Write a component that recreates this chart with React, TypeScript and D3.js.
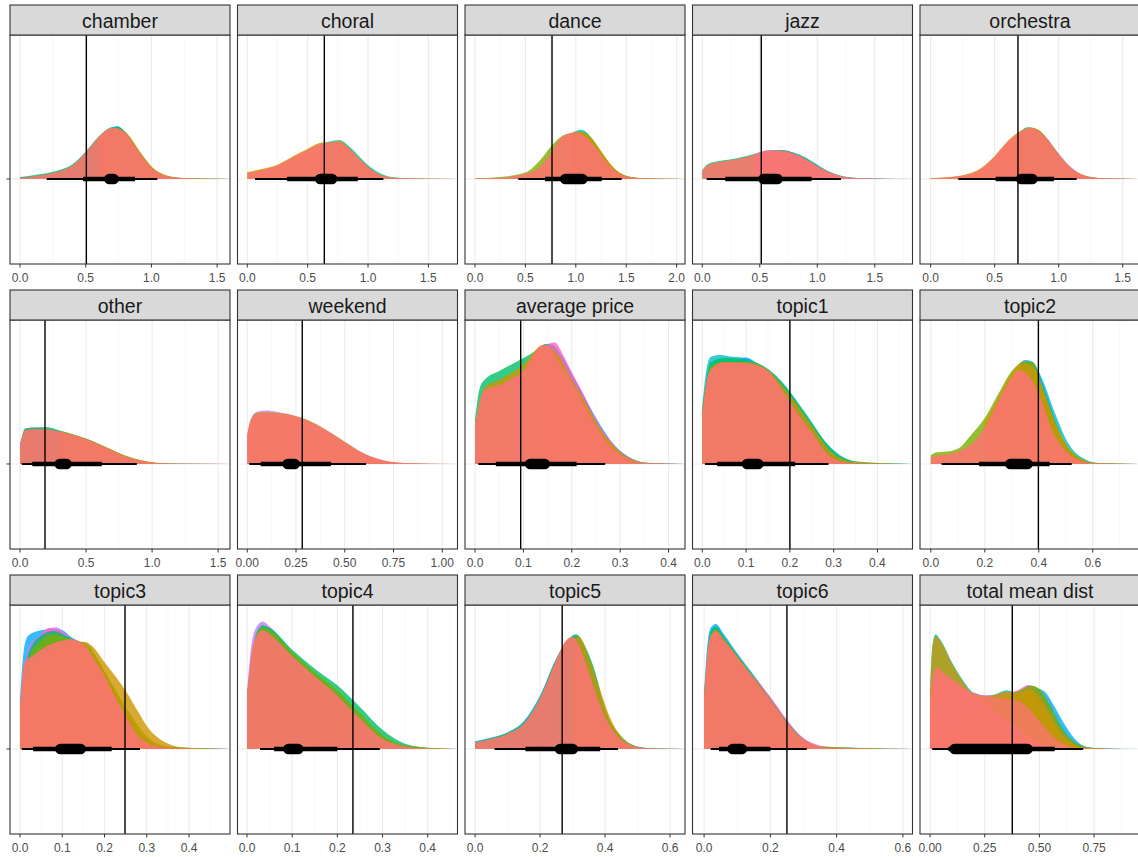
import React from "react";
import * as d3 from "d3";

type Pt = [number, number];
type Alt = { g: number; pts: Pt[] };

// ggplot hue palette, 8 groups
const GROUP_COLORS = ["#F8766D", "#CD9600", "#7CAE00", "#00BE67", "#00BFC4", "#00A9FF", "#C77CFF", "#FF61CC"];

const PANEL_NAMES = [
  "chamber", "choral", "dance", "jazz", "orchestra",
  "other", "weekend", "average price", "topic1", "topic2",
  "topic3", "topic4", "topic5", "topic6", "total mean dist",
];

// x-axis limits per panel
const X_DOMAINS: Pt[] = [
  [-0.076, 1.598], [-0.081, 1.741], [-0.099, 2.083], [-0.085, 1.828], [-0.083, 1.635],
  [-0.076, 1.59], [-0.05, 1.078], [-0.0207, 0.434], [-0.0224, 0.48], [-0.04, 0.775],
  [-0.0237, 0.497], [-0.021, 0.466], [-0.031, 0.646], [-0.035, 0.629], [-0.046, 0.96],
];

const X_TICKS: number[][] = [
  [0, 0.5, 1, 1.5], [0, 0.5, 1, 1.5], [0, 0.5, 1, 1.5, 2], [0, 0.5, 1, 1.5], [0, 0.5, 1, 1.5],
  [0, 0.5, 1, 1.5], [0, 0.25, 0.5, 0.75, 1], [0, 0.1, 0.2, 0.3, 0.4], [0, 0.1, 0.2, 0.3, 0.4], [0, 0.2, 0.4, 0.6],
  [0, 0.1, 0.2, 0.3, 0.4], [0, 0.1, 0.2, 0.3, 0.4], [0, 0.2, 0.4, 0.6], [0, 0.2, 0.4, 0.6], [0, 0.25, 0.5, 0.75],
];

const TICK_DECIMALS = [1, 1, 1, 1, 1, 1, 2, 1, 1, 1, 1, 1, 1, 1, 2];

// reference (vertical line) values
const VLINES = [0.505, 0.638, 0.764, 0.513, 0.682, 0.189, 0.282, 0.0944, 0.2, 0.3985, 0.2485, 0.2345, 0.268, 0.25, 0.376];

// interval summaries: [lo, hi]
const THIN_INTERVALS: Pt[] = [
  [0.203, 1.045], [0.064, 1.127], [0.43, 1.455], [0.038, 1.206], [0.216, 1.14],
  [0.013, 0.884], [0.01, 0.609], [0.007, 0.269], [0.006, 0.288], [0.04, 0.522],
  [0.004, 0.284], [0.029, 0.294], [0.06, 0.44], [0.02, 0.31], [0.01, 0.7],
];
const THICK_INTERVALS: Pt[] = [
  [0.48, 0.875], [0.33, 0.915], [0.695, 1.257], [0.2, 0.95], [0.508, 0.963],
  [0.093, 0.619], [0.069, 0.429], [0.043, 0.21], [0.034, 0.212], [0.179, 0.44],
  [0.031, 0.217], [0.06, 0.2], [0.155, 0.385], [0.045, 0.2], [0.084, 0.57],
];
const POINT_RANGES: Pt[] = [
  [0.64, 0.753], [0.56, 0.746], [0.843, 1.118], [0.487, 0.7], [0.666, 0.836],
  [0.26, 0.392], [0.18, 0.27], [0.103, 0.155], [0.09, 0.14], [0.275, 0.378],
  [0.083, 0.156], [0.08, 0.125], [0.245, 0.317], [0.07, 0.13], [0.088, 0.47],
];

// densities (relative height, 1 = tallest slab)
const chamberRed: Pt[] = [[0, 0.01], [0.1, 0.02], [0.2, 0.035], [0.3, 0.06], [0.4, 0.105], [0.5, 0.21], [0.6, 0.33], [0.68, 0.395], [0.72, 0.4], [0.8, 0.36], [0.9, 0.215], [1.0, 0.085], [1.1, 0.027], [1.2, 0.009], [1.3, 0.003], [1.45, 0.001], [1.595, 0]];
const chamberAlt: Alt[] = [
  { g: 5, pts: [[0, 0.01], [0.3, 0.06], [0.4, 0.1], [0.5, 0.2], [0.6, 0.325], [0.7, 0.405], [0.74, 0.415], [0.8, 0.37], [0.9, 0.225], [1.0, 0.09], [1.1, 0.03], [1.2, 0.01], [1.595, 0]] },
  { g: 3, pts: [[0, 0.015], [0.1, 0.03], [0.2, 0.045], [0.3, 0.07], [0.4, 0.115], [0.5, 0.215], [0.6, 0.335], [0.7, 0.405], [0.75, 0.408], [0.8, 0.368], [0.9, 0.222], [1.0, 0.09], [1.1, 0.03], [1.2, 0.01], [1.3, 0.003], [1.595, 0]] },
  { g: 1, pts: [[0.6, 0.33], [0.72, 0.402], [0.82, 0.35], [0.92, 0.205], [1.02, 0.08], [1.12, 0.027], [1.25, 0.007], [1.595, 0]] },
];

const choralRed: Pt[] = [[0, 0.045], [0.1, 0.065], [0.25, 0.105], [0.35, 0.155], [0.5, 0.23], [0.6, 0.275], [0.65, 0.28], [0.75, 0.29], [0.85, 0.23], [0.95, 0.135], [1.05, 0.057], [1.15, 0.018], [1.3, 0.005], [1.5, 0.001], [1.74, 0]];
const choralAlt: Alt[] = [
  { g: 4, pts: [[0.6, 0.27], [0.76, 0.305], [0.86, 0.242], [0.97, 0.135], [1.08, 0.055], [1.2, 0.015], [1.35, 0.004], [1.74, 0]] },
  { g: 1, pts: [[0, 0.055], [0.1, 0.075], [0.25, 0.112], [0.35, 0.162], [0.5, 0.236], [0.62, 0.285], [0.68, 0.285], [0.76, 0.3], [0.85, 0.238], [0.95, 0.14], [1.05, 0.06], [1.15, 0.02], [1.3, 0.006], [1.74, 0]] },
];

const danceRed: Pt[] = [[0, 0.004], [0.25, 0.01], [0.5, 0.04], [0.65, 0.1], [0.75, 0.2], [0.85, 0.32], [0.95, 0.36], [1.0, 0.365], [1.1, 0.33], [1.2, 0.24], [1.3, 0.135], [1.4, 0.057], [1.5, 0.02], [1.7, 0.003], [2.08, 0]];
const danceAlt: Alt[] = [
  { g: 4, pts: [[0.95, 0.355], [1.05, 0.385], [1.1, 0.37], [1.2, 0.265], [1.3, 0.15], [1.4, 0.062], [1.5, 0.022], [1.7, 0.004], [2.08, 0]] },
  { g: 2, pts: [[0, 0.005], [0.25, 0.015], [0.5, 0.05], [0.65, 0.15], [0.75, 0.25], [0.85, 0.33], [0.95, 0.36], [1.05, 0.37], [1.15, 0.33], [1.25, 0.22], [1.35, 0.11], [1.45, 0.04], [1.6, 0.01], [2.08, 0]] },
  { g: 1, pts: [[0.95, 0.355], [1.02, 0.372], [1.1, 0.35], [1.2, 0.27], [1.3, 0.16], [1.4, 0.07], [1.5, 0.025], [1.7, 0.004], [2.08, 0]] },
];

const jazzRed: Pt[] = [[0, 0.065], [0.05, 0.11], [0.15, 0.133], [0.3, 0.155], [0.45, 0.188], [0.6, 0.22], [0.7, 0.22], [0.8, 0.196], [0.9, 0.155], [1.0, 0.1], [1.1, 0.052], [1.2, 0.023], [1.35, 0.006], [1.5, 0.002], [1.83, 0]];
const jazzAlt: Alt[] = [
  { g: 4, pts: [[0.6, 0.222], [0.7, 0.226], [0.8, 0.205], [0.9, 0.168], [1.0, 0.112], [1.1, 0.06], [1.2, 0.027], [1.35, 0.008], [1.83, 0]] },
  { g: 3, pts: [[0, 0.07], [0.05, 0.118], [0.15, 0.14], [0.3, 0.163], [0.45, 0.196], [0.6, 0.228], [0.7, 0.228], [0.8, 0.203], [0.9, 0.162], [1.0, 0.107], [1.1, 0.057], [1.2, 0.025], [1.35, 0.007], [1.5, 0.002], [1.83, 0]] },
  { g: 7, pts: [[0.45, 0.19], [0.58, 0.226], [0.66, 0.224], [0.8, 0.198], [0.9, 0.157], [1.0, 0.102], [1.1, 0.053], [1.2, 0.023], [1.35, 0.006], [1.83, 0]] },
];

const orchestraRed: Pt[] = [[0, 0.005], [0.25, 0.026], [0.4, 0.084], [0.5, 0.175], [0.6, 0.29], [0.7, 0.37], [0.78, 0.4], [0.85, 0.37], [0.95, 0.255], [1.05, 0.123], [1.15, 0.045], [1.25, 0.013], [1.4, 0.003], [1.635, 0]];
const orchestraAlt: Alt[] = [
  { g: 7, pts: [[0.8, 0.395], [0.9, 0.33], [1.0, 0.2], [1.1, 0.09], [1.2, 0.03], [1.35, 0.006], [1.635, 0]] },
  { g: 3, pts: [[0.7, 0.372], [0.76, 0.405], [0.84, 0.385], [0.95, 0.26], [1.05, 0.125], [1.15, 0.046], [1.25, 0.013], [1.4, 0.003], [1.635, 0]] },
  { g: 1, pts: [[0, 0.007], [0.25, 0.03], [0.4, 0.09], [0.5, 0.18], [0.6, 0.295], [0.7, 0.375], [0.78, 0.403], [0.85, 0.378], [0.95, 0.262], [1.05, 0.128], [1.15, 0.048], [1.25, 0.014], [1.4, 0.003], [1.635, 0]] },
];

const otherRed: Pt[] = [[0, 0.144], [0.04, 0.265], [0.1, 0.272], [0.2, 0.272], [0.3, 0.253], [0.4, 0.227], [0.5, 0.193], [0.6, 0.149], [0.7, 0.102], [0.8, 0.057], [0.9, 0.029], [1.0, 0.01], [1.1, 0.004], [1.3, 0.001], [1.59, 0]];
const otherAlt: Alt[] = [
  { g: 7, pts: [[0, 0.15], [0.04, 0.27], [0.1, 0.285], [0.2, 0.28], [0.3, 0.258], [0.4, 0.23], [0.5, 0.198], [0.6, 0.155], [0.7, 0.108], [0.8, 0.06], [0.9, 0.03], [1.0, 0.011], [1.1, 0.004], [1.59, 0]] },
  { g: 3, pts: [[0, 0.15], [0.04, 0.28], [0.1, 0.286], [0.2, 0.29], [0.3, 0.262], [0.4, 0.233], [0.5, 0.2], [0.6, 0.155], [0.7, 0.108], [0.8, 0.062], [0.9, 0.032], [1.0, 0.012], [1.1, 0.004], [1.59, 0]] },
  { g: 1, pts: [[0.3, 0.258], [0.45, 0.215], [0.6, 0.156], [0.75, 0.085], [0.9, 0.032], [1.05, 0.008], [1.2, 0.002], [1.59, 0]] },
];

const weekendRed: Pt[] = [[0, 0.22], [0.02, 0.34], [0.05, 0.39], [0.1, 0.395], [0.2, 0.385], [0.3, 0.34], [0.4, 0.264], [0.5, 0.167], [0.6, 0.076], [0.7, 0.026], [0.8, 0.008], [0.9, 0.002], [1.078, 0]];
const weekendAlt: Alt[] = [
  { g: 6, pts: [[0, 0.23], [0.02, 0.36], [0.05, 0.41], [0.1, 0.42], [0.15, 0.41], [0.2, 0.395], [0.3, 0.35], [0.4, 0.272], [0.5, 0.175], [0.6, 0.082], [0.7, 0.028], [0.8, 0.008], [1.078, 0]] },
  { g: 1, pts: [[0, 0.225], [0.02, 0.35], [0.05, 0.4], [0.1, 0.405], [0.2, 0.392], [0.3, 0.348], [0.4, 0.27], [0.5, 0.172], [0.6, 0.08], [0.7, 0.027], [0.8, 0.008], [1.078, 0]] },
];

const avgPriceRed: Pt[] = [[0, 0.285], [0.01, 0.5], [0.02, 0.58], [0.05, 0.62], [0.08, 0.68], [0.1, 0.73], [0.12, 0.85], [0.14, 0.93], [0.155, 0.91], [0.17, 0.82], [0.19, 0.7], [0.21, 0.57], [0.23, 0.43], [0.25, 0.3], [0.27, 0.18], [0.29, 0.1], [0.31, 0.045], [0.33, 0.015], [0.36, 0.004], [0.434, 0]];
const avgPriceAlt: Alt[] = [
  { g: 5, pts: [[0.12, 0.86], [0.15, 0.94], [0.17, 0.9], [0.19, 0.78], [0.21, 0.64], [0.23, 0.5], [0.26, 0.3], [0.29, 0.14], [0.32, 0.05], [0.35, 0.012], [0.434, 0]] },
  { g: 3, pts: [[0, 0.35], [0.01, 0.6], [0.02, 0.66], [0.05, 0.73], [0.1, 0.83], [0.13, 0.9], [0.145, 0.94], [0.16, 0.935], [0.18, 0.84], [0.2, 0.7], [0.22, 0.56], [0.25, 0.34], [0.28, 0.17], [0.3, 0.1], [0.33, 0.03], [0.36, 0.008], [0.434, 0]] },
  { g: 7, pts: [[0.12, 0.86], [0.15, 0.94], [0.165, 0.952], [0.18, 0.87], [0.2, 0.72], [0.22, 0.58], [0.25, 0.35], [0.28, 0.18], [0.3, 0.1], [0.33, 0.03], [0.36, 0.006], [0.434, 0]] },
  { g: 1, pts: [[0, 0.3], [0.02, 0.6], [0.05, 0.66], [0.1, 0.78], [0.14, 0.93], [0.17, 0.86], [0.2, 0.66], [0.23, 0.47], [0.26, 0.27], [0.29, 0.13], [0.32, 0.04], [0.36, 0.006], [0.434, 0]] },
];

const topic1Red: Pt[] = [[0, 0.39], [0.01, 0.65], [0.02, 0.74], [0.05, 0.795], [0.1, 0.79], [0.15, 0.73], [0.175, 0.62], [0.2, 0.49], [0.225, 0.36], [0.25, 0.25], [0.275, 0.12], [0.3, 0.04], [0.33, 0.01], [0.38, 0.002], [0.48, 0]];
const topic1Alt: Alt[] = [
  { g: 4, pts: [[0, 0.45], [0.01, 0.75], [0.02, 0.84], [0.04, 0.855], [0.07, 0.84], [0.1, 0.83], [0.12, 0.8], [0.15, 0.74], [0.175, 0.67], [0.2, 0.57], [0.225, 0.45], [0.25, 0.33], [0.275, 0.2], [0.3, 0.11], [0.33, 0.04], [0.37, 0.01], [0.48, 0]] },
  { g: 5, pts: [[0.07, 0.8], [0.1, 0.835], [0.12, 0.8], [0.15, 0.73], [0.2, 0.5], [0.25, 0.26], [0.3, 0.05], [0.35, 0.01], [0.48, 0]] },
  { g: 3, pts: [[0, 0.43], [0.02, 0.8], [0.05, 0.83], [0.1, 0.815], [0.15, 0.745], [0.2, 0.56], [0.25, 0.32], [0.3, 0.1], [0.35, 0.02], [0.48, 0]] },
  { g: 1, pts: [[0, 0.4], [0.02, 0.76], [0.05, 0.8], [0.1, 0.8], [0.15, 0.735], [0.2, 0.54], [0.25, 0.3], [0.3, 0.08], [0.35, 0.015], [0.48, 0]] },
];

const topic2Red: Pt[] = [[0, 0.05], [0.02, 0.065], [0.05, 0.07], [0.1, 0.097], [0.15, 0.154], [0.2, 0.285], [0.25, 0.495], [0.3, 0.68], [0.33, 0.735], [0.36, 0.7], [0.4, 0.55], [0.45, 0.26], [0.5, 0.1], [0.55, 0.03], [0.6, 0.005], [0.775, 0]];
const topic2Alt: Alt[] = [
  { g: 4, pts: [[0.35, 0.8], [0.38, 0.79], [0.41, 0.68], [0.46, 0.4], [0.51, 0.16], [0.56, 0.05], [0.62, 0.008], [0.775, 0]] },
  { g: 5, pts: [[0.33, 0.79], [0.35, 0.815], [0.37, 0.81], [0.39, 0.76], [0.42, 0.6], [0.46, 0.35], [0.5, 0.14], [0.55, 0.04], [0.6, 0.008], [0.775, 0]] },
  { g: 2, pts: [[0, 0.07], [0.02, 0.09], [0.05, 0.095], [0.1, 0.12], [0.15, 0.23], [0.2, 0.36], [0.25, 0.55], [0.3, 0.73], [0.35, 0.805], [0.38, 0.8], [0.4, 0.69], [0.45, 0.39], [0.5, 0.154], [0.55, 0.05], [0.6, 0.01], [0.775, 0]] },
  { g: 1, pts: [[0.2, 0.32], [0.25, 0.52], [0.3, 0.71], [0.34, 0.79], [0.38, 0.76], [0.42, 0.56], [0.47, 0.28], [0.52, 0.1], [0.57, 0.025], [0.62, 0.004], [0.775, 0]] },
];

const topic3Red: Pt[] = [[0, 0.34], [0.01, 0.68], [0.03, 0.73], [0.06, 0.8], [0.1, 0.85], [0.12, 0.86], [0.15, 0.82], [0.18, 0.68], [0.2, 0.575], [0.22, 0.44], [0.25, 0.26], [0.28, 0.1], [0.3, 0.05], [0.33, 0.015], [0.37, 0.003], [0.497, 0]];
const topic3Alt: Alt[] = [
  { g: 5, pts: [[0, 0.4], [0.01, 0.8], [0.02, 0.89], [0.05, 0.93], [0.08, 0.94], [0.1, 0.93], [0.12, 0.88], [0.15, 0.82], [0.18, 0.7], [0.2, 0.59], [0.22, 0.45], [0.25, 0.27], [0.28, 0.11], [0.3, 0.05], [0.35, 0.01], [0.497, 0]] },
  { g: 6, pts: [[0, 0.35], [0.02, 0.8], [0.05, 0.9], [0.085, 0.955], [0.1, 0.93], [0.12, 0.87], [0.15, 0.8], [0.18, 0.66], [0.2, 0.55], [0.25, 0.25], [0.3, 0.05], [0.35, 0.01], [0.497, 0]] },
  { g: 7, pts: [[0.05, 0.9], [0.07, 0.95], [0.08, 0.945], [0.1, 0.91], [0.12, 0.86], [0.15, 0.8], [0.2, 0.55], [0.25, 0.25], [0.3, 0.05], [0.35, 0.01], [0.497, 0]] },
  { g: 3, pts: [[0, 0.35], [0.02, 0.75], [0.05, 0.89], [0.08, 0.925], [0.11, 0.885], [0.13, 0.855], [0.16, 0.82], [0.2, 0.6], [0.25, 0.3], [0.3, 0.08], [0.35, 0.015], [0.497, 0]] },
  { g: 2, pts: [[0, 0.33], [0.02, 0.7], [0.05, 0.85], [0.08, 0.9], [0.11, 0.87], [0.14, 0.84], [0.18, 0.72], [0.22, 0.5], [0.26, 0.28], [0.3, 0.1], [0.35, 0.02], [0.497, 0]] },
  { g: 1, pts: [[0, 0.3], [0.02, 0.6], [0.06, 0.75], [0.1, 0.8], [0.15, 0.84], [0.17, 0.81], [0.2, 0.68], [0.25, 0.457], [0.28, 0.29], [0.3, 0.18], [0.33, 0.08], [0.36, 0.03], [0.4, 0.008], [0.497, 0]] },
];

const topic4Red: Pt[] = [[0, 0.4], [0.01, 0.75], [0.02, 0.88], [0.035, 0.93], [0.05, 0.9], [0.1, 0.73], [0.15, 0.57], [0.2, 0.42], [0.25, 0.24], [0.3, 0.08], [0.35, 0.02], [0.4, 0.004], [0.466, 0]];
const topic4Alt: Alt[] = [
  { g: 6, pts: [[0, 0.45], [0.01, 0.82], [0.02, 0.95], [0.035, 1.0], [0.05, 0.96], [0.1, 0.76], [0.15, 0.6], [0.2, 0.44], [0.25, 0.25], [0.3, 0.09], [0.35, 0.02], [0.466, 0]] },
  { g: 3, pts: [[0, 0.4], [0.02, 0.9], [0.035, 0.97], [0.05, 0.95], [0.1, 0.78], [0.15, 0.63], [0.2, 0.5], [0.25, 0.33], [0.3, 0.15], [0.35, 0.04], [0.4, 0.008], [0.466, 0]] },
  { g: 2, pts: [[0, 0.4], [0.02, 0.88], [0.035, 0.95], [0.05, 0.93], [0.1, 0.76], [0.15, 0.6], [0.2, 0.46], [0.25, 0.28], [0.3, 0.11], [0.35, 0.03], [0.466, 0]] },
];

const topic5Red: Pt[] = [[0, 0.05], [0.05, 0.08], [0.1, 0.12], [0.15, 0.2], [0.2, 0.4], [0.25, 0.7], [0.28, 0.85], [0.3, 0.88], [0.33, 0.75], [0.35, 0.6], [0.4, 0.25], [0.45, 0.07], [0.5, 0.015], [0.55, 0.003], [0.646, 0]];
const topic5Alt: Alt[] = [
  { g: 5, pts: [[0, 0.06], [0.05, 0.09], [0.1, 0.13], [0.15, 0.22], [0.2, 0.42], [0.25, 0.71], [0.29, 0.86], [0.31, 0.89], [0.34, 0.78], [0.37, 0.58], [0.4, 0.3], [0.45, 0.09], [0.5, 0.018], [0.55, 0.004], [0.646, 0]] },
  { g: 3, pts: [[0, 0.055], [0.05, 0.085], [0.1, 0.13], [0.15, 0.21], [0.2, 0.41], [0.25, 0.71], [0.29, 0.87], [0.31, 0.9], [0.34, 0.8], [0.37, 0.6], [0.4, 0.32], [0.45, 0.1], [0.5, 0.02], [0.55, 0.004], [0.646, 0]] },
  { g: 1, pts: [[0.3, 0.86], [0.32, 0.88], [0.35, 0.72], [0.38, 0.5], [0.42, 0.22], [0.46, 0.07], [0.5, 0.015], [0.55, 0.003], [0.646, 0]] },
];

const topic6Red: Pt[] = [[0, 0.4], [0.01, 0.75], [0.02, 0.88], [0.035, 0.92], [0.06, 0.85], [0.1, 0.72], [0.15, 0.55], [0.2, 0.38], [0.25, 0.2], [0.3, 0.07], [0.35, 0.02], [0.4, 0.005], [0.629, 0]];
const topic6Alt: Alt[] = [
  { g: 5, pts: [[0, 0.45], [0.01, 0.82], [0.02, 0.95], [0.035, 0.98], [0.06, 0.9], [0.1, 0.75], [0.15, 0.58], [0.2, 0.4], [0.25, 0.22], [0.3, 0.08], [0.35, 0.02], [0.629, 0]] },
  { g: 7, pts: [[0.15, 0.57], [0.2, 0.41], [0.25, 0.23], [0.3, 0.085], [0.35, 0.025], [0.4, 0.005], [0.629, 0]] },
  { g: 3, pts: [[0, 0.42], [0.02, 0.92], [0.035, 0.96], [0.06, 0.88], [0.1, 0.74], [0.15, 0.565], [0.2, 0.39], [0.25, 0.21], [0.3, 0.075], [0.35, 0.02], [0.629, 0]] },
  { g: 1, pts: [[0, 0.4], [0.02, 0.89], [0.035, 0.935], [0.06, 0.86], [0.1, 0.73], [0.15, 0.56], [0.2, 0.385], [0.25, 0.205], [0.3, 0.072], [0.35, 0.02], [0.629, 0]] },
];

const totalRed: Pt[] = [[0, 0.34], [0.01, 0.55], [0.03, 0.64], [0.06, 0.6], [0.1, 0.55], [0.2, 0.42], [0.3, 0.29], [0.4, 0.16], [0.5, 0.05], [0.6, 0.01], [0.7, 0.002], [0.96, 0]];
const totalAlt: Alt[] = [
  { g: 5, pts: [[0, 0.04], [0.2, 0.24], [0.35, 0.4], [0.47, 0.48], [0.52, 0.455], [0.57, 0.33], [0.62, 0.18], [0.67, 0.065], [0.72, 0.015], [0.8, 0.002], [0.96, 0]] },
  { g: 4, pts: [[0, 0.45], [0.01, 0.8], [0.025, 0.9], [0.05, 0.85], [0.1, 0.68], [0.15, 0.54], [0.2, 0.44], [0.25, 0.42], [0.3, 0.43], [0.35, 0.46], [0.4, 0.44], [0.45, 0.5], [0.5, 0.46], [0.55, 0.34], [0.6, 0.18], [0.65, 0.07], [0.7, 0.02], [0.8, 0.003], [0.96, 0]] },
  { g: 7, pts: [[0.2, 0.42], [0.3, 0.42], [0.4, 0.46], [0.45, 0.5], [0.5, 0.44], [0.55, 0.3], [0.6, 0.15], [0.65, 0.055], [0.7, 0.015], [0.8, 0.002], [0.96, 0]] },
  { g: 2, pts: [[0, 0.05], [0.1, 0.12], [0.2, 0.25], [0.3, 0.37], [0.4, 0.45], [0.47, 0.495], [0.5, 0.47], [0.55, 0.34], [0.6, 0.17], [0.65, 0.07], [0.7, 0.02], [0.8, 0.002], [0.96, 0]] },
  { g: 1, pts: [[0, 0.44], [0.01, 0.78], [0.025, 0.885], [0.05, 0.84], [0.1, 0.67], [0.15, 0.53], [0.2, 0.43], [0.25, 0.41], [0.3, 0.425], [0.35, 0.45], [0.4, 0.435], [0.45, 0.47], [0.5, 0.4], [0.55, 0.26], [0.6, 0.12], [0.65, 0.045], [0.7, 0.012], [0.8, 0.002], [0.96, 0]] },
  { g: 0, pts: [[0, 0.3], [0.02, 0.52], [0.05, 0.55], [0.1, 0.52], [0.2, 0.44], [0.3, 0.4], [0.4, 0.38], [0.45, 0.32], [0.5, 0.22], [0.55, 0.12], [0.6, 0.05], [0.65, 0.015], [0.75, 0.002], [0.96, 0]] },
];

const RED_SLABS: Pt[][] = [
  chamberRed, choralRed, danceRed, jazzRed, orchestraRed,
  otherRed, weekendRed, avgPriceRed, topic1Red, topic2Red,
  topic3Red, topic4Red, topic5Red, topic6Red, totalRed,
];
const ALT_SLABS: Alt[][] = [
  chamberAlt, choralAlt, danceAlt, jazzAlt, orchestraAlt,
  otherAlt, weekendAlt, avgPriceAlt, topic1Alt, topic2Alt,
  topic3Alt, topic4Alt, topic5Alt, topic6Alt, totalAlt,
];

const FONT = "'Liberation Sans', Arial, Helvetica, sans-serif";

export default function App() {
  const W = 1138;
  const H = 857;
  const left = 10, colStep = 227.5, pw = 220;
  const top = 5, rowStep = 285, stripH = 30, bodyH = 229;
  const color = d3.scaleOrdinal<number, string>().domain(d3.range(8)).range(GROUP_COLORS);

  return (
    <svg width={W} height={H} viewBox={`0 0 ${W} ${H}`}
      style={{ position: "absolute", left: 0, top: 0, display: "block", background: "#fff" }}
      fontFamily={FONT}>
      <rect x={0} y={0} width={W} height={H} fill="#fff" />
      {PANEL_NAMES.map((name, i) => {
        const col = i % 5;
        const row = Math.floor(i / 5);
        const x0 = left + col * colStep;
        const x1 = x0 + pw;
        const sTop = top + row * rowStep;
        const bTop = sTop + stripH;
        const bBot = bTop + bodyH;
        const x = d3.scaleLinear().domain(X_DOMAINS[i]).range([x0, x1]);
        const y = d3.scaleLinear().domain([-0.667, 1.129]).range([bBot, bTop]);
        const area = d3.area<Pt>()
          .x((d) => x(d[0]))
          .y0(y(0))
          .y1((d) => y(d[1]))
          .curve(d3.curveMonotoneX);
        const ticks = X_TICKS[i];
        const step = ticks[1] - ticks[0];
        const minors: number[] = [];
        for (let k = -1; k < ticks.length + 2; k++) {
          const v = ticks[0] + (k + 0.5) * step;
          if (v > X_DOMAINS[i][0] && v < X_DOMAINS[i][1]) minors.push(v);
        }
        const majors = [...ticks];
        const extra = ticks[ticks.length - 1] + step;
        if (extra < X_DOMAINS[i][1]) majors.push(extra);
        const fmt = d3.format(`.${TICK_DECIMALS[i]}f`);
        const by = y(0);
        const r = 5.3;
        const pr = POINT_RANGES[i];
        let pa = x(pr[0]) + r, pb = x(pr[1]) - r;
        if (pb < pa) { const m = (pa + pb) / 2; pa = m; pb = m; }
        const clipId = `clip${i}`;
        return (
          <g key={name}>
            <defs>
              <clipPath id={clipId}>
                <rect x={x0} y={bTop} width={pw} height={bodyH} />
              </clipPath>
            </defs>
            <rect x={x0} y={bTop} width={pw} height={bodyH} fill="#fff" />
            <g clipPath={`url(#${clipId})`}>
              {minors.map((v) => (
                <line key={`mi${v}`} x1={x(v)} x2={x(v)} y1={bTop} y2={bBot} stroke="#F2F2F2" strokeWidth={0.6} />
              ))}
              {majors.map((v) => (
                <line key={`ma${v}`} x1={x(v)} x2={x(v)} y1={bTop} y2={bBot} stroke="#EBEBEB" strokeWidth={1.1} />
              ))}
              <line x1={x0} x2={x1} y1={by} y2={by} stroke="#EBEBEB" strokeWidth={1.1} />
              {ALT_SLABS[i].map((a, k) => (
                <path key={`alt${k}`} d={area(a.pts) || ""} fill={color(a.g)} fillOpacity={0.8} />
              ))}
              <path d={area(RED_SLABS[i]) || ""} fill={color(0)} fillOpacity={0.93} />
              <line x1={x(THIN_INTERVALS[i][0])} x2={x(THIN_INTERVALS[i][1])} y1={by} y2={by} stroke="#000" strokeWidth={1.9} />
              <line x1={x(THICK_INTERVALS[i][0])} x2={x(THICK_INTERVALS[i][1])} y1={by} y2={by} stroke="#000" strokeWidth={4.6} />
              <line x1={pa} x2={pb} y1={by} y2={by} stroke="#000" strokeWidth={r * 2} strokeLinecap="round" />
              <line x1={x(VLINES[i])} x2={x(VLINES[i])} y1={bTop} y2={bBot} stroke="#000" strokeWidth={1.4} />
            </g>
            <rect x={x0} y={bTop} width={pw} height={bodyH} fill="none" stroke="#333333" strokeWidth={1.1} />
            <rect x={x0} y={sTop} width={pw} height={stripH} fill="#D9D9D9" stroke="#333333" strokeWidth={1.1} />
            <text x={(x0 + x1) / 2} y={sTop + 22.5} textAnchor="middle" fontSize={19.5} fill="#1A1A1A">{name}</text>
            {ticks.map((v) => (
              <g key={`t${v}`}>
                <line x1={x(v)} x2={x(v)} y1={bBot} y2={bBot + 3.5} stroke="#333333" strokeWidth={1} />
                <text x={x(v)} y={bBot + 17.5} textAnchor="middle" fontSize={12} fill="#4D4D4D">{fmt(v)}</text>
              </g>
            ))}
            {col === 0 && (
              <line x1={x0 - 3.5} x2={x0} y1={by} y2={by} stroke="#333333" strokeWidth={1} />
            )}
          </g>
        );
      })}
    </svg>
  );
}
